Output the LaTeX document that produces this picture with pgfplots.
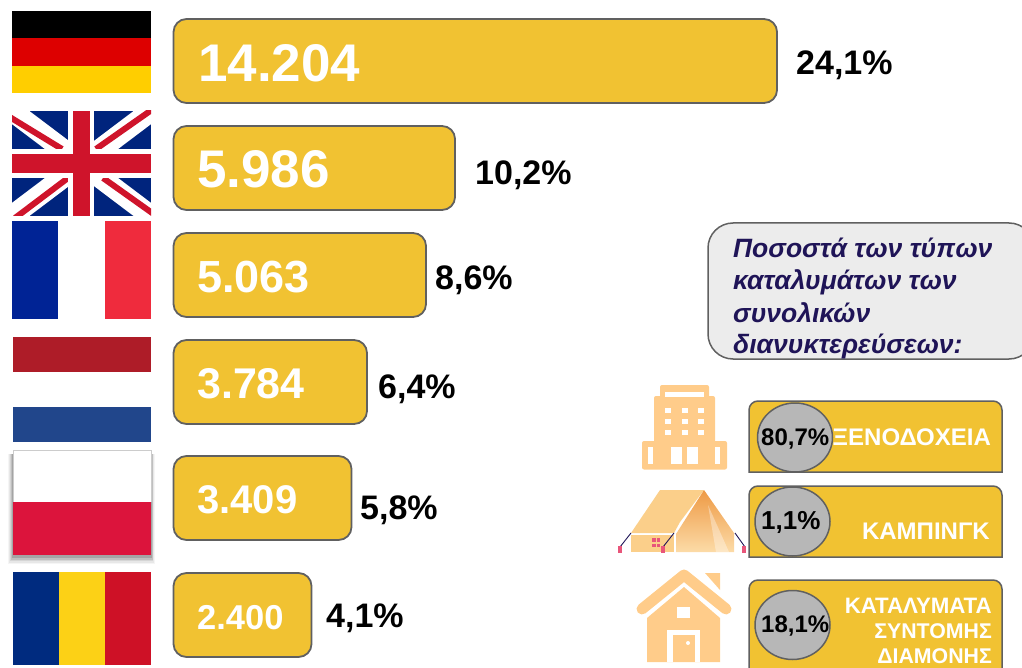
\documentclass[border=0pt]{standalone}
\usepackage{pgfplots}
\pgfplotsset{compat=1.18}
\usepackage{fontspec}
\setmainfont{Liberation Sans}
\definecolor{barY}{HTML}{F1C232}
\definecolor{edge}{HTML}{606060}
\definecolor{ico}{HTML}{FFCC8A}
\definecolor{navy}{HTML}{1F1457}
\definecolor{deR}{HTML}{DD0000}
\definecolor{deY}{HTML}{FFCE00}
\definecolor{ukB}{HTML}{00247D}
\definecolor{ukR}{HTML}{CF142B}
\definecolor{frB}{HTML}{002395}
\definecolor{frR}{HTML}{EF2B3D}
\definecolor{nlR}{HTML}{AE1C28}
\definecolor{nlB}{HTML}{21468B}
\definecolor{plR}{HTML}{DC143C}
\definecolor{roB}{HTML}{002B7F}
\definecolor{roY}{HTML}{FCD116}
\definecolor{roR}{HTML}{CE1126}
\definecolor{panel}{HTML}{ECECEC}
\definecolor{circ}{HTML}{B7B7B7}
\definecolor{tentD}{HTML}{EE9A45}
\definecolor{tentL}{HTML}{FBCF8A}
\definecolor{tentP}{HTML}{E8557A}
\pgfplotsset{pix/.style={at={(0pt,0pt)},anchor=south west,scale only axis,width=1022pt,height=668pt,
  hide axis,ymin=0,ymax=668,y dir=reverse,clip=true}}
\newcommand{\bt}[5]{\node[anchor=base west,text=#4,inner sep=0pt] at (axis cs:#1,#2) {\fontsize{#3}{#3}\selectfont\bfseries #5};}
\newcommand{\rt}[4]{\node[anchor=base east,text=white,inner sep=0pt] at (axis cs:#1,#2) {\fontsize{#3}{#3}\selectfont\bfseries #4};}
\newcommand{\ct}[2]{\node[anchor=base west,text=navy,inner sep=0pt] at (axis cs:733,#1) {\fontsize{26.5}{26.5}\selectfont\bfseries\itshape #2};}
\newcommand{\rect}[5]{\fill[#1] (axis cs:#2,#3) rectangle (axis cs:#4,#5);}
\newcommand{\pan}[2]{\draw[fill=barY,draw=edge,line width=1.5pt] (axis cs:749,#2) [rounded corners=9pt] -- (axis cs:749,#1) -- (axis cs:1002,#1) [sharp corners] -- (axis cs:1002,#2) -- cycle;}
\newcommand{\circl}[2]{\draw[fill=circ,draw=edge,line width=1.5pt] (axis cs:#1,#2) ellipse [x radius=37.5pt,y radius=34.5pt];}
\begin{document}
\begin{tikzpicture}
\path[use as bounding box] (0,0) rectangle (1022pt,668pt);
% main bars: lengths as drawn in the picture
\begin{axis}[pix,xmin=-173.5,xmax=848.5]
\addplot[xbar,bar shift=0pt,bar width=84pt,fill=barY,draw=edge,line width=1.8pt,rounded corners=13pt] coordinates {
 (603.5,61) (281.5,168) (252.5,275) (193.5,382) (178,498) (138,615)};
\end{axis}
\begin{axis}[pix,xmin=0,xmax=1022]
% Germany
\rect{black}{12}{11}{151}{38}
\rect{deR}{12}{38}{151}{66}
\rect{deY}{12}{66}{151}{93}
% UK
\begin{scope}
\clip (axis cs:12,111) rectangle (axis cs:151,216);
\fill[ukB] (axis cs:12,111) rectangle (axis cs:151,216);
\draw[white,line width=21pt] (axis cs:12,111) -- (axis cs:151,216);
\draw[white,line width=21pt] (axis cs:12,216) -- (axis cs:151,111);
\draw[ukR,line width=6pt] (axis cs:8,116) -- (axis cs:62,149);
\draw[ukR,line width=6pt] (axis cs:103,178) -- (axis cs:155,215);
\draw[ukR,line width=6pt] (axis cs:68,178) -- (axis cs:15,218);
\draw[ukR,line width=6pt] (axis cs:96,149) -- (axis cs:153,109);
\rect{white}{68}{111}{94}{216}
\rect{white}{12}{149}{151}{178}
\rect{ukR}{73}{111}{90}{216}
\rect{ukR}{12}{154}{151}{173}
\end{scope}
% France
\rect{frB}{12}{221}{58}{319}
\rect{frR}{105}{221}{151}{319}
% Netherlands
\rect{nlR}{13}{337}{151}{372}
\rect{nlB}{13}{407}{151}{442}
% Poland, with soft shadow
\fill[black,opacity=.04] (axis cs:8,454) rectangle (axis cs:155,564);
\fill[black,opacity=.06] (axis cs:9,454) rectangle (axis cs:154,562.5);
\fill[black,opacity=.08] (axis cs:10,454) rectangle (axis cs:153,561);
\fill[black,opacity=.10] (axis cs:11,454) rectangle (axis cs:152.5,559.5);
\fill[black,opacity=.14] (axis cs:12,454) rectangle (axis cs:152,558);
\rect{white}{13}{450}{151}{502}
\draw[black!20,line width=.6pt] (axis cs:13,502) |- (axis cs:151,450) -- (axis cs:151,502);
\rect{plR}{13}{502}{151}{555}
% Romania
\rect{roB}{13}{572}{59}{665}
\rect{roY}{59}{572}{105}{665}
\rect{roR}{105}{572}{151}{665}
% values
\bt{198}{82}{53}{white}{14.204}
\bt{197}{188}{53}{white}{5.986}
\bt{197}{292}{45}{white}{5.063}
\bt{197}{398}{43}{white}{3.784}
\bt{197}{513}{40}{white}{3.409}
\bt{197}{629}{34.5}{white}{2.400}
\bt{796}{75}{34}{black}{24,1\%}
\bt{475}{185}{34}{black}{10,2\%}
\bt{435}{290}{34}{black}{8,6\%}
\bt{378}{398}{34}{black}{6,4\%}
\bt{360}{519}{34}{black}{5,8\%}
\bt{326}{627}{34}{black}{4,1\%}
% callout
\draw[fill=panel,draw=edge,line width=1.5pt,rounded corners=25pt] (axis cs:708,223) rectangle (axis cs:1034,359);
\ct{258}{Ποσοστά των τύπων}
\ct{290}{καταλυμάτων των}
\ct{322}{συνολικών}
\ct{353}{διανυκτερεύσεων:}
% panels
\pan{401}{472}
\pan{486}{557}
\pan{580}{700}
\circl{795}{437.5}
\circl{792.5}{521.5}
\circl{792.5}{625}
\bt{761}{445}{24}{black}{80,7\%}
\bt{761}{529}{26}{black}{1,1\%}
\bt{761}{632}{24}{black}{18,1\%}
\rt{991}{445}{24}{ΞΕΝΟΔΟΧΕΙΑ}
\rt{990}{539}{24}{ΚΑΜΠΙΝΓΚ}
\rt{992}{613}{22.3}{ΚΑΤΑΛΥΜΑΤΑ}
\rt{992}{638}{21.3}{ΣΥΝΤΟΜΗΣ}
\rt{992}{663}{21.3}{ΔΙΑΜΟΝΗΣ}
% hotel icon
\fill[ico,rounded corners=2pt] (axis cs:660,385) rectangle (axis cs:709,400);
\fill[ico,rounded corners=2pt] (axis cs:654,396) rectangle (axis cs:715,445);
\rect{white}{665}{392}{704}{397}
\fill[ico,rounded corners=2pt] (axis cs:642,441) rectangle (axis cs:727,469.5);
\rect{white}{665}{408}{671}{413} \rect{white}{682}{408}{688}{413} \rect{white}{698}{408}{704}{413}
\rect{white}{665}{419}{671}{424} \rect{white}{682}{419}{688}{424} \rect{white}{698}{419}{704}{424}
\rect{white}{665}{430}{671}{435} \rect{white}{682}{430}{688}{435} \rect{white}{698}{430}{704}{435}
\rect{white}{648}{447}{653}{464}
\rect{white}{671}{447}{682}{464}
\rect{white}{687}{447}{698}{464}
\rect{white}{715}{447}{720}{464}
% tent icon
\fill[tentL] (axis cs:631,533) -- (axis cs:660,490) -- (axis cs:704,490) -- (axis cs:680,522) -- (axis cs:674,533) -- cycle;
\fill[tentL] (axis cs:631,534.5) rectangle (axis cs:674,552);
\shade[top color=tentD,middle color=tentL,bottom color=tentL!75!white] (axis cs:704,490) -- (axis cs:734,533) -- (axis cs:734,552) -- (axis cs:676,552) -- (axis cs:676,534) -- cycle;
\fill[white,opacity=.35] (axis cs:708,505) -- (axis cs:729,552) -- (axis cs:716,552) -- cycle;
\rect{tentP}{652}{538}{655.5}{542} \rect{tentP}{657}{538}{660}{542}
\rect{tentP}{652}{544}{655.5}{547} \rect{tentP}{657}{544}{660}{547}
\draw[navy,line width=.9pt] (axis cs:631,533) -- (axis cs:620,547);
\draw[navy,line width=.9pt] (axis cs:674,533) -- (axis cs:663,547);
\draw[navy,line width=.9pt] (axis cs:735,533) -- (axis cs:745,547);
\rect{tentP}{618}{546}{622}{553} \rect{tentP}{661}{546}{665}{553} \rect{tentP}{742}{546}{746}{553}
% house icon
\fill[ico] (axis cs:647,662) -- (axis cs:647,618) -- (axis cs:684,587) -- (axis cs:720,618) -- (axis cs:720,662) -- cycle;
\fill[ico] (axis cs:705,573) -- (axis cs:720,573) -- (axis cs:720,590) -- cycle;
\draw[ico,line width=11pt,line cap=round,line join=round] (axis cs:642,609) -- (axis cs:684,575) -- (axis cs:726,609);
\rect{white}{667}{630}{700}{662}
\rect{ico}{673}{635}{695}{662}
\rect{white}{673}{602}{695}{623}
\rect{ico}{673}{602}{695}{623}
\rect{white}{677}{607}{690}{618}
\fill[white] (axis cs:688,643) circle [radius=2pt];
\end{axis}
\end{tikzpicture}
\end{document}
